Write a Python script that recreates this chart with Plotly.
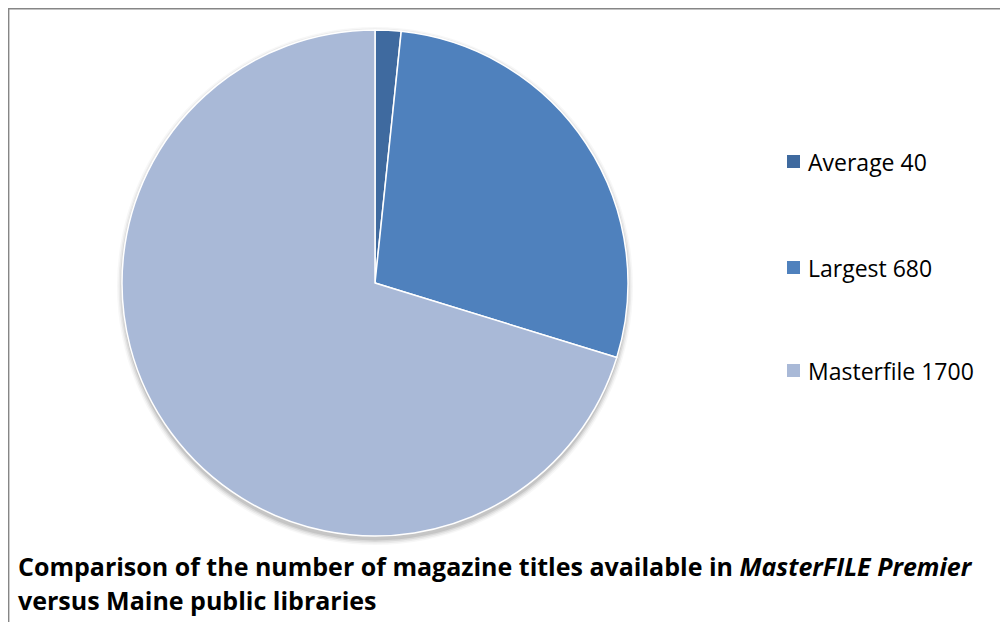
import plotly.graph_objects as go

labels = ["Average", "Largest", "Masterfile"]
values = [40, 680, 1700]
colors = ["#3F6A9F", "#4F81BD", "#A9B9D7"]
title_lines = ["<b>Comparison of the number of magazine titles available in <i>MasterFILE Premier</i></b>",
               "<b>versus Maine public libraries</b>"]

W, H = 1008, 622
OX, OY = 8, 8  # page offset of the figure inside the browser window
FONT = "Open Sans, sans-serif"


def px(x):
    return (x - OX) / W


def py(y):
    return 1 - (y - OY) / H


CX, CY, R = 375, 283, 253

fig = go.Figure()
fig.add_trace(go.Pie(
    labels=labels, values=values, sort=False, direction="clockwise", rotation=0,
    marker=dict(colors=colors, line=dict(color="white", width=1.5)),
    textinfo="none", hoverinfo="label+value", showlegend=False,
    domain=dict(x=[px(CX - R), px(CX + R)], y=[py(CY + R), py(CY - R)]),
))

shapes = [dict(type="rect", xref="paper", yref="paper", x0=0.0004, x1=1.05, y0=-0.05, y1=0.9992,
               line=dict(color="#868686", width=2), fillcolor="rgba(0,0,0,0)", layer="below")]
# soft drop shadow under the pie
for dr, a in [(6, 0.03), (4.5, 0.05), (3, 0.07), (1.5, 0.09)]:
    shapes.append(dict(type="circle", xref="paper", yref="paper", layer="below",
                       x0=px(CX - R - dr + 1), x1=px(CX + R + dr - 1),
                       y0=py(CY + 3 + R + dr), y1=py(CY + 3 - R - dr),
                       fillcolor=f"rgba(0,0,0,{a})", line=dict(width=0)))

annotations = []
leg_y = [162, 268, 371]
for lab, val, col, yy in zip(labels, values, colors, leg_y):
    shapes.append(dict(type="rect", xref="paper", yref="paper",
                       x0=px(787), x1=px(800), y0=py(yy + 6), y1=py(yy - 7),
                       fillcolor=col, line=dict(width=0)))
    annotations.append(dict(xref="paper", yref="paper", x=px(806), y=py(yy),
                            xanchor="left", yanchor="middle", showarrow=False,
                            text=f"{lab} {val}", font=dict(family=FONT, size=23, color="black")))

for txt, yy in zip(title_lines, [566, 600]):
    annotations.append(dict(xref="paper", yref="paper", x=px(16), y=py(yy), xanchor="left", yanchor="middle",
                            showarrow=False, align="left", text=txt,
                            font=dict(family=FONT, size=25, color="black")))

fig.update_layout(width=W, height=H, margin=dict(l=0, r=0, t=0, b=0),
                  paper_bgcolor="white", plot_bgcolor="white",
                  shapes=shapes, annotations=annotations)
fig.write_html("out.html")
